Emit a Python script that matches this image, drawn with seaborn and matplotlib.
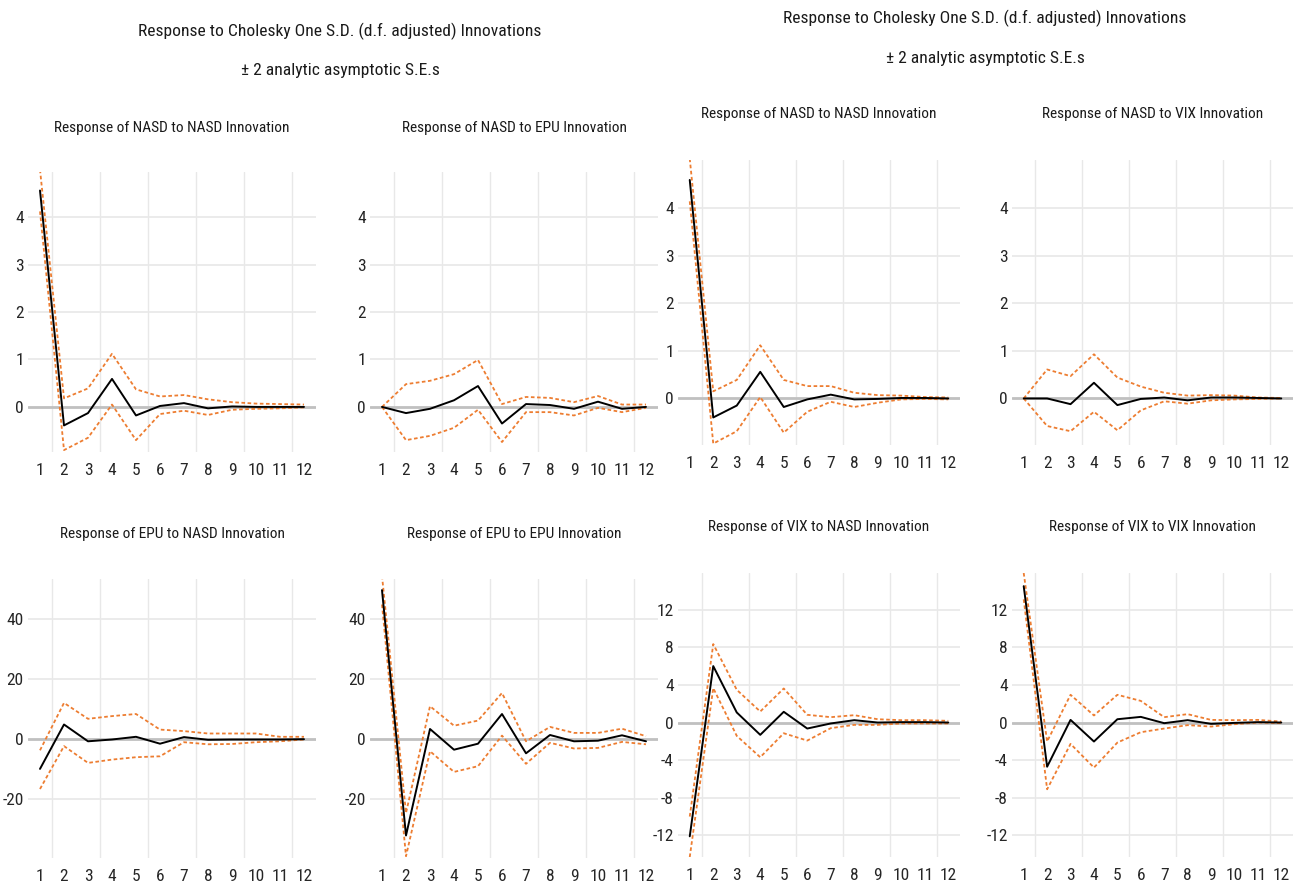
import numpy as np
import pandas as pd
import matplotlib
matplotlib.use("Agg")
import matplotlib.pyplot as plt
from matplotlib import font_manager as fm
import seaborn as sns

# horizon 1..12
periods = list(range(1, 13))

# left block: NASD / EPU
nasd_nasd_l = [4.56, -0.39, -0.13, 0.59, -0.18, 0.02, 0.08, -0.03, 0.01, 0.0, 0.0, 0.0]
nasd_nasd_l_up = [5.0, 0.18, 0.39, 1.12, 0.37, 0.22, 0.25, 0.16, 0.10, 0.07, 0.06, 0.05]
nasd_nasd_l_lo = [4.12, -0.91, -0.65, 0.05, -0.70, -0.15, -0.08, -0.17, -0.06, -0.04, -0.03, -0.01]

nasd_epu = [0.0, -0.13, -0.04, 0.14, 0.44, -0.35, 0.06, 0.04, -0.04, 0.11, -0.04, 0.0]
nasd_epu_up = [0.0, 0.48, 0.55, 0.69, 0.99, 0.06, 0.21, 0.19, 0.10, 0.23, 0.05, 0.05]
nasd_epu_lo = [0.0, -0.70, -0.61, -0.44, -0.06, -0.74, -0.11, -0.11, -0.18, -0.02, -0.11, -0.02]

epu_nasd = [-10.0, 4.8, -0.8, -0.2, 0.7, -1.6, 0.6, -0.3, -0.2, -0.2, -0.2, -0.1]
epu_nasd_up = [-3.8, 12.0, 6.7, 7.6, 8.3, 3.1, 2.6, 1.8, 1.8, 1.8, 0.7, 0.7]
epu_nasd_lo = [-16.7, -2.4, -8.0, -6.9, -6.1, -5.8, -1.1, -1.8, -1.7, -1.1, -0.8, -0.2]

epu_epu = [49.6, -32.2, 3.3, -3.6, -1.6, 8.3, -4.8, 1.3, -0.8, -0.6, 1.2, -0.8]
epu_epu_up = [54.4, -24.7, 10.9, 4.4, 6.1, 15.3, -0.8, 4.0, 2.0, 2.0, 3.4, 0.9]
epu_epu_lo = [44.8, -39.1, -4.1, -11.0, -9.1, 1.1, -8.3, -1.3, -3.2, -3.0, -1.0, -1.8]

# right block: NASD / VIX
nasd_nasd_r = [4.60, -0.40, -0.15, 0.56, -0.18, -0.02, 0.08, -0.02, -0.01, 0.01, 0.01, 0.0]
nasd_nasd_r_up = [5.05, 0.15, 0.39, 1.12, 0.39, 0.26, 0.26, 0.12, 0.07, 0.06, 0.03, 0.02]
nasd_nasd_r_lo = [4.15, -0.95, -0.69, 0.03, -0.72, -0.28, -0.07, -0.18, -0.09, -0.02, -0.01, -0.02]

nasd_vix = [0.0, 0.0, -0.12, 0.33, -0.14, -0.01, 0.02, -0.04, 0.02, 0.02, 0.01, 0.0]
nasd_vix_up = [0.0, 0.61, 0.47, 0.93, 0.44, 0.25, 0.12, 0.06, 0.07, 0.06, 0.02, 0.01]
nasd_vix_lo = [0.0, -0.58, -0.69, -0.28, -0.67, -0.25, -0.06, -0.11, -0.04, -0.02, -0.01, 0.0]

vix_nasd = [-12.1, 6.0, 1.07, -1.31, 1.14, -0.64, -0.1, 0.25, 0.0, 0.04, 0.04, 0.0]
vix_nasd_up = [-10.0, 8.34, 3.48, 1.17, 3.62, 0.82, 0.57, 0.78, 0.35, 0.25, 0.25, 0.18]
vix_nasd_lo = [-14.3, 3.66, -1.42, -3.69, -1.14, -1.92, -0.6, -0.25, -0.25, -0.1, -0.1, -0.1]

vix_vix = [14.5, -4.7, 0.28, -2.02, 0.35, 0.6, -0.07, 0.25, -0.14, -0.04, 0.04, 0.0]
vix_vix_up = [15.9, -2.02, 2.95, 0.75, 2.95, 2.3, 0.57, 0.89, 0.28, 0.25, 0.28, 0.1]
vix_vix_lo = [13.1, -7.1, -2.27, -4.79, -2.13, -1.03, -0.64, -0.28, -0.43, -0.18, 0.0, -0.07]

main_title = "Response to Cholesky One S.D. (d.f. adjusted) Innovations"
sub_title = "\u00b1 2 analytic asymptotic S.E.s"

sns.set_theme(style="white")
plt.rcParams["font.family"] = ["Liberation Sans", "DejaVu Sans"]
plt.rcParams["axes.unicode_minus"] = False


def pick_narrow_font():
    # look for a condensed / narrow face, otherwise fall back to Liberation Sans
    prefs = ["Liberation Sans Narrow", "Roboto Condensed", "Open Sans Condensed",
             "DejaVu Sans Condensed", "DejaVu Sans", "Noto Sans", "Roboto", "Open Sans"]
    found = []
    for f in fm.fontManager.ttflist:
        narrow = ("Narrow" in f.name or "Condensed" in f.name
                  or f.stretch in ("condensed", "semi-condensed", "extra-condensed", 300))
        if not narrow or f.style != "normal":
            continue
        if f.weight not in (400, "normal", "regular", "book"):
            continue
        found.append(f)
    for p in prefs:
        for f in found:
            if f.name == p:
                return fm.FontProperties(fname=f.fname)
    if found:
        return fm.FontProperties(fname=found[0].fname)
    return fm.FontProperties(family="Liberation Sans")


FONT = pick_narrow_font()

W, H = 1298, 890
fig = plt.figure(figsize=(W / 100, H / 100), dpi=100)
renderer = fig.canvas.get_renderer()

ORANGE = "#ED7D31"
GRID = "#e8e8e8"


def fitted_size(text, width_px, max_size):
    t = fig.text(0, 0, text, fontproperties=FONT, fontsize=10)
    w = t.get_window_extent(renderer).width
    t.remove()
    return min(max_size, 10 * width_px / w)


TITLE_FS = fitted_size("Response of NASD to NASD Innovation", 235, 14)
HEAD_FS = fitted_size(main_title, 400, 16)
TICK_FS = 12.5


def pix_axes(x0, y0, x1, y1):
    return fig.add_axes([x0 / W, 1 - y1 / H, (x1 - x0) / W, (y1 - y0) / H])


def irf_panel(box, title, title_y, mid, up, lo, ylim, yticks):
    ax = pix_axes(*box)
    df = pd.DataFrame({"period": periods, "mid": mid, "up": up, "lo": lo})
    for b in [1.5, 3.5, 5.5, 7.5, 9.5, 11.5]:
        ax.axvline(b, color=GRID, lw=1.0, zorder=0)
    for t in yticks:
        if t != 0:
            ax.axhline(t, color=GRID, lw=1.2, zorder=0)
    ax.axhline(0, color="#c0c0c0", lw=2.0, zorder=1)
    sns.lineplot(data=df, x="period", y="up", ax=ax, color=ORANGE, lw=1.3,
                 linestyle=(0, (2, 1.4)), zorder=3)
    sns.lineplot(data=df, x="period", y="lo", ax=ax, color=ORANGE, lw=1.3,
                 linestyle=(0, (2, 1.4)), zorder=3)
    sns.lineplot(data=df, x="period", y="mid", ax=ax, color="black", lw=1.4, zorder=4)
    ax.set_xlim(0.5, 12.5)
    ax.set_ylim(*ylim)
    ax.set_xticks(periods)
    ax.set_yticks(yticks)
    ax.set_xlabel("")
    ax.set_ylabel("")
    ax.tick_params(axis="both", length=0, colors="#262626")
    ax.tick_params(axis="y", pad=3)
    ax.tick_params(axis="x", pad=8)
    for lab in ax.get_xticklabels() + ax.get_yticklabels():
        lab.set_fontproperties(FONT)
        lab.set_fontsize(TICK_FS)
    for s in ax.spines.values():
        s.set_visible(False)
    cx = (box[0] + box[2]) / 2 / W
    fig.text(cx, 1 - title_y / H, title, ha="center", va="center",
             fontproperties=FONT, fontsize=TITLE_FS, color="#1a1a1a")
    return ax


top_l = (-0.95, 4.95)
top_r = (-0.98, 5.02)
bot_l = (-39.7, 53.3)
bot_r = (-14.3, 15.9)
t4 = [0, 1, 2, 3, 4]
t40 = [-20, 0, 20, 40]
t12 = [-12, -8, -4, 0, 4, 8, 12]

irf_panel((28, 172, 316, 452), "Response of NASD to NASD Innovation", 128,
          nasd_nasd_l, nasd_nasd_l_up, nasd_nasd_l_lo, top_l, t4)
irf_panel((370, 172, 658, 452), "Response of NASD to EPU Innovation", 128,
          nasd_epu, nasd_epu_up, nasd_epu_lo, top_l, t4)
irf_panel((28, 579, 316, 858), "Response of EPU to NASD Innovation", 534,
          epu_nasd, epu_nasd_up, epu_nasd_lo, bot_l, t40)
irf_panel((370, 579, 658, 858), "Response of EPU to EPU Innovation", 534,
          epu_epu, epu_epu_up, epu_epu_lo, bot_l, t40)

irf_panel((678, 160, 960, 445), "Response of NASD to NASD Innovation", 114,
          nasd_nasd_r, nasd_nasd_r_up, nasd_nasd_r_lo, top_r, t4)
irf_panel((1012, 160, 1293, 445), "Response of NASD to VIX Innovation", 114,
          nasd_vix, nasd_vix_up, nasd_vix_lo, top_r, t4)
irf_panel((678, 573, 960, 857), "Response of VIX to NASD Innovation", 527,
          vix_nasd, vix_nasd_up, vix_nasd_lo, bot_r, t12)
irf_panel((1012, 573, 1293, 857), "Response of VIX to VIX Innovation", 527,
          vix_vix, vix_vix_up, vix_vix_lo, bot_r, t12)

# block headings
for cx, y1, y2 in [(340, 31, 70), (985, 18, 58)]:
    fig.text(cx / W, 1 - y1 / H, main_title, ha="center", va="center",
             fontproperties=FONT, fontsize=HEAD_FS, color="#1a1a1a")
    fig.text(cx / W, 1 - y2 / H, sub_title, ha="center", va="center",
             fontproperties=FONT, fontsize=HEAD_FS, color="#1a1a1a")

fig.savefig("out.png", dpi=100, facecolor="white")
